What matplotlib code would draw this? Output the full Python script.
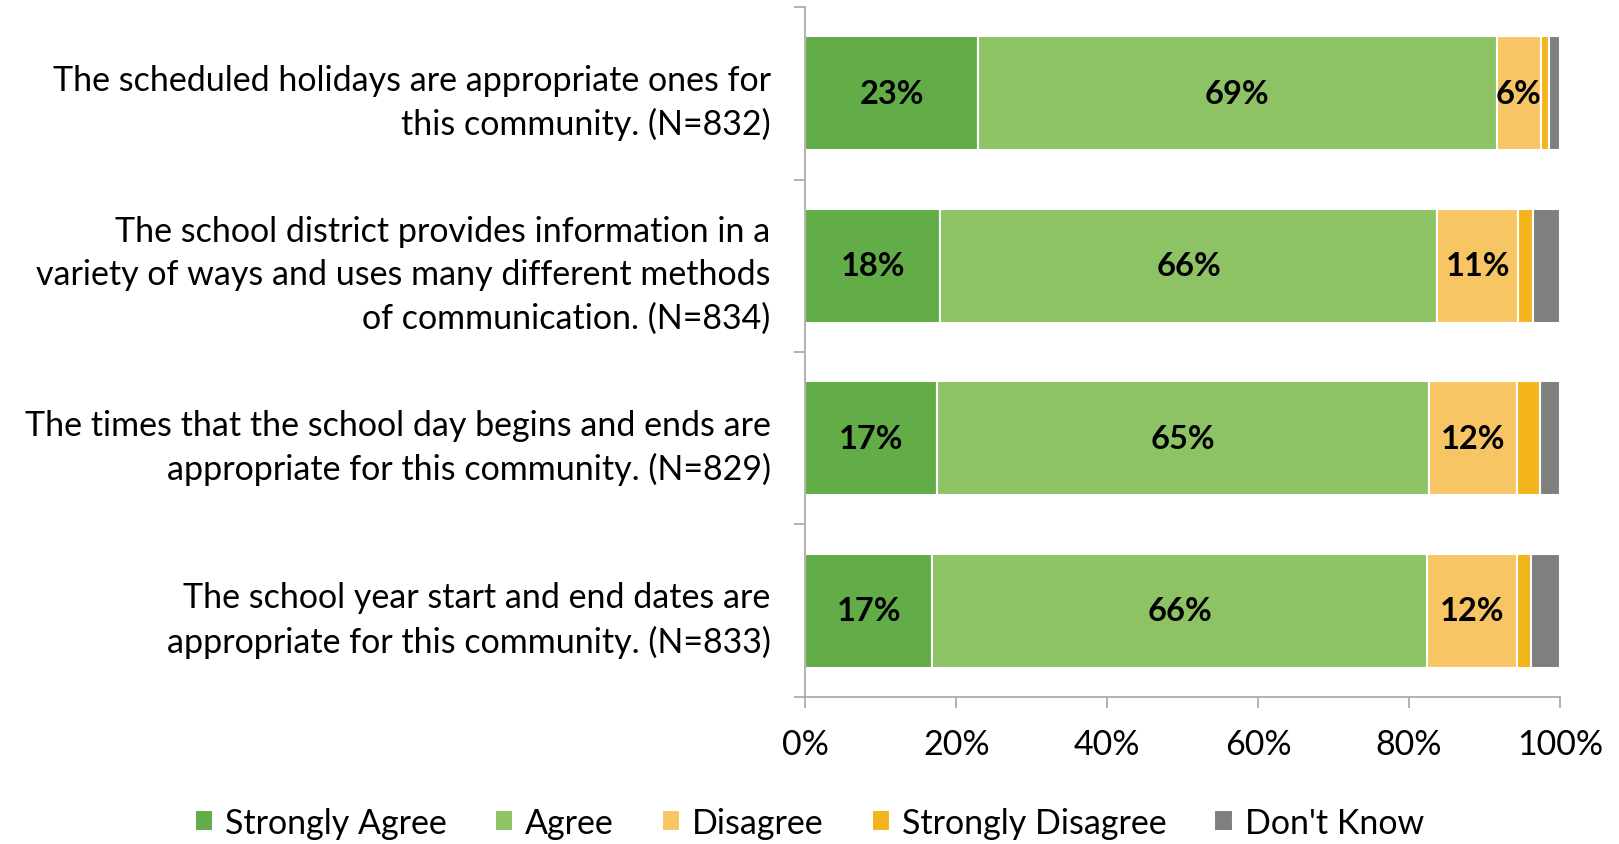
import numpy as np
import matplotlib
matplotlib.use('Agg')
from matplotlib import pyplot as plt

plt.rcParams['font.family'] = ['Lato', 'DejaVu Sans']

questions = [
    "The scheduled holidays are appropriate ones for\nthis community. (N=832)",
    "The school district provides information in a\nvariety of ways and uses many different methods\nof communication. (N=834)",
    "The times that the school day begins and ends are\nappropriate for this community. (N=829)",
    "The school year start and end dates are\nappropriate for this community. (N=833)",
]

series_names = ['Strongly Agree', 'Agree', 'Disagree', 'Strongly Disagree', "Don't Know"]
series_colors = ['#62AD47', '#8DC365', '#F8C565', '#F4B41C', '#7F7F7F']

strongly_agree = [22.9, 17.9, 17.4, 16.8]
agree = [68.7, 65.8, 65.2, 65.6]
disagree = [5.9, 10.8, 11.7, 11.9]
strongly_disagree = [1.1, 1.9, 3.0, 1.9]
dont_know = [1.4, 3.6, 2.7, 3.8]

# only these series get a label inside the bar
labelled = ['Strongly Agree', 'Agree', 'Disagree']

x_ticks = [0, 20, 40, 60, 80, 100]

all_series = [strongly_agree, agree, disagree, strongly_disagree, dont_know]

FS = 24.5

fig = plt.figure(figsize=(16.19, 8.45), dpi=100)
ax = fig.add_axes([0.4975, 0.174, 0.466, 0.8165])

y = np.arange(len(questions))
left = np.zeros(len(questions))
for name, vals, col in zip(series_names, all_series, series_colors):
    vals = np.array(vals)
    bars = ax.barh(y, vals, left=left, height=0.66, color=col,
                   edgecolor='white', linewidth=1.5, label=name)
    if name in labelled:
        for b, v in zip(bars, vals):
            ax.text(b.get_x() + b.get_width() / 2, b.get_y() + b.get_height() / 2,
                    '%d%%' % round(v), ha='center', va='center',
                    fontsize=23.5, fontweight='bold', color='black')
    left += vals

ax.set_xlim(0, 100)
ax.set_ylim(len(questions) - 0.5, -0.5)

ax.set_xticks(x_ticks)
ax.set_xticklabels(['%d%%' % t for t in x_ticks], fontsize=FS)
ax.tick_params(axis='x', direction='out', length=8, width=1.2, color='#A6A6A6', pad=14)

ax.set_yticks(y)
ax.set_yticklabels(questions, fontsize=FS, ha='right', linespacing=1.43)
ax.tick_params(axis='y', which='major', length=0, pad=25)
ax.set_yticks(np.arange(len(questions) + 1) - 0.5, minor=True)
ax.tick_params(axis='y', which='minor', direction='out', length=8, width=1.2, color='#A6A6A6')

for s in ['top', 'right']:
    ax.spines[s].set_visible(False)
for s in ['left', 'bottom']:
    ax.spines[s].set_color('#A6A6A6')
    ax.spines[s].set_linewidth(1.2)

fig.legend(loc='lower center', bbox_to_anchor=(0.5, -0.03), ncol=5, frameon=False,
           fontsize=FS, handlelength=0.55, handleheight=0.55, handletextpad=0.35,
           columnspacing=1.4)

fig.savefig('out.png', dpi=100)
